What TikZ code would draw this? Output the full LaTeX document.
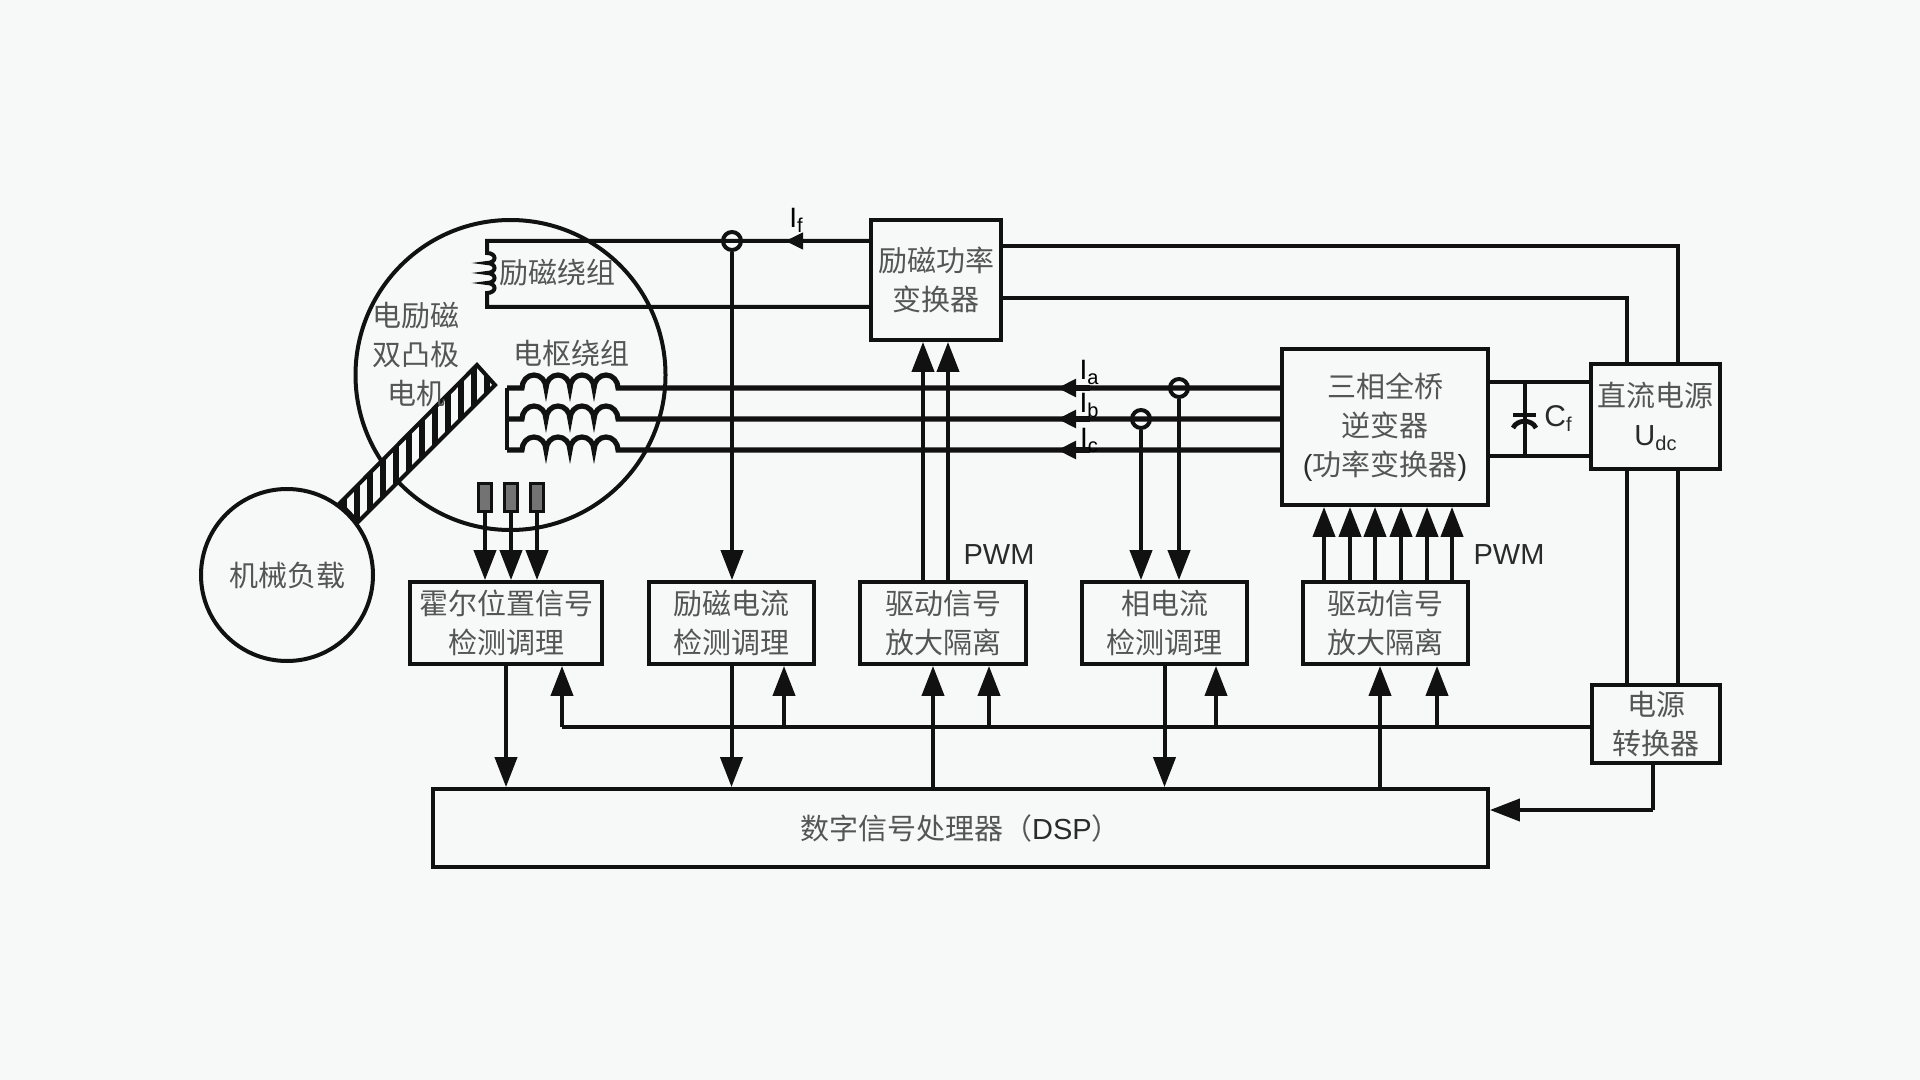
\documentclass[tikz,border=0pt]{standalone}
\usepackage{fontspec}
\setmainfont{Liberation Sans}
\newfontfamily\cjkf{Noto Sans CJK SC}
\usetikzlibrary{arrows.meta,shapes.geometric}
\definecolor{bgc}{HTML}{F7F8F8}
\definecolor{inkc}{HTML}{111111}
\definecolor{txtc}{HTML}{555555}
\definecolor{latc}{HTML}{2A2A2A}
\newcommand{\lat}[1]{{\rmfamily\color{latc}#1}}
\newcommand{\subt}[1]{{\raisebox{-2.5pt}{\fontsize{10}{10}\selectfont #1}}}
\newcommand{\humpx}{arc[start angle=180,end angle=360,x radius=12,y radius=13]}
\tikzset{
  cjktext/.style={font=\cjkf\fontsize{14.5}{19.5}\selectfont,text=txtc,align=center},
  blockbox/.style={draw=inkc,line width=1.9pt,rectangle,inner sep=0pt,cjktext},
  roundbody/.style={draw=inkc,line width=2pt,circle,inner sep=0pt,cjktext},
  label/.style={cjktext,inner sep=0pt},
  latlabel/.style={font=\fontsize{14}{14}\selectfont,text=latc,inner sep=0pt},
  wire/.style={draw=inkc,line width=2pt},
  fatwire/.style={draw=inkc,line width=2.6pt},
  bigarrow/.style={wire,-{Triangle[length=15pt,width=11pt]}},
  smallarrow/.style={fatwire,-{Triangle[length=9.5pt,width=8.5pt]}},
  currentsensor/.style={draw=inkc,line width=2pt,circle,minimum size=9pt,inner sep=0pt},
  hallsensor/.style={draw=inkc,line width=1.5pt,fill=black!55,rectangle,inner sep=0pt,minimum width=6.5pt,minimum height=14pt}
}
\begin{document}
\begin{tikzpicture}[x=0.5pt,y=-0.5pt]
\useasboundingbox (0,0) rectangle (1920,1080);
\fill[bgc] (0,0) rectangle (1920,1080);

% motor, rotor, load
\node[roundbody,minimum size=155pt] (motor) at (510.5,375) {};
\coordinate (ra) at (477,365);
\coordinate (rb) at (495,385);
\coordinate (rc) at (358,522);
\coordinate (rd) at (340,503);
\fill[bgc] (ra) -- (rb) -- (rc) -- (rd) -- cycle;
\begin{scope}
  \clip (ra) -- (rb) -- (rc) -- (rd) -- cycle;
  \foreach \sx in {344,357,...,500}
    \draw[line width=2.6pt,inkc] (\sx,360) -- (\sx,530);
\end{scope}
\draw[wire] (ra) -- (rb) -- (rc) -- (rd) -- cycle;
\node[roundbody,fill=bgc,minimum size=86pt] (load) at (287,575) {机械负载};

% text inside the motor
\node[label] (mt) at (416,354) {电励磁\\双凸极\\电机};
\node[label] (ft) at (557,273) {励磁绕组};
\node[label] (at) at (571,353) {电枢绕组};

% boxes
\node[blockbox,minimum width=65pt,minimum height=60pt] (fconv) at (936,280) {励磁功率\\变换器};
\node[blockbox,minimum width=103pt,minimum height=78pt] (inv) at (1385,427) {三相全桥\\逆变器\\\lat{(}功率变换器\lat{)}};
\node[blockbox,minimum width=64.5pt,minimum height=52.5pt] (dc) at (1655.5,416.5) {直流电源\\\lat{U\subt{dc}}};
\node[blockbox,minimum width=96pt,minimum height=41pt] (hall) at (506,623) {霍尔位置信号\\检测调理};
\node[blockbox,minimum width=82.5pt,minimum height=41pt] (fsense) at (731.5,623) {励磁电流\\检测调理};
\node[blockbox,minimum width=83pt,minimum height=41pt] (drvone) at (943,623) {驱动信号\\放大隔离};
\node[blockbox,minimum width=82.5pt,minimum height=41pt] (psense) at (1164.5,623) {相电流\\检测调理};
\node[blockbox,minimum width=82.5pt,minimum height=41pt] (drvtwo) at (1385.5,623) {驱动信号\\放大隔离};
\node[blockbox,minimum width=64pt,minimum height=39pt] (pconv) at (1656,724) {电源\\转换器};
\node[blockbox,minimum width=527.5pt,minimum height=39pt] (dsp) at (960.5,828) {数字信号处理器（\lat{DSP}）};

% field winding
\coordinate (fa) at (487,241);
\coordinate (fb) at (487,307);
\draw[wire] (fconv.west |- fa) -- (fa) -- (487,253)
  .. controls (497,253) and (497,263) .. (487,263)
  .. controls (497,263) and (497,273) .. (487,273)
  .. controls (497,273) and (497,283) .. (487,283)
  .. controls (497,283) and (497,293) .. (487,293)
  -- (fb) -- (fconv.west |- fb);
\coordinate (iftip) at (785,241);
\coordinate (ifbase) at (820,241);
\draw[wire,-{Triangle[length=9pt,width=8pt]}] (ifbase) -- (iftip);
\node[latlabel,text=black] (iflabel) at (796,220) {I\subt{f}};

% armature windings
\coordinate (la) at (507,388);
\coordinate (lb) at (507,419);
\coordinate (lc) at (507,450);
\draw[wire] (la) -- (lc);
\foreach \nm in {la,lb,lc} {
  \draw[fatwire] (\nm) -- ++(15,0) \humpx \humpx \humpx \humpx -- (inv.west |- \nm);
}
\coordinate (tipa) at (1057,388);
\coordinate (tipb) at (1057,419);
\coordinate (tipc) at (1057,450);
\draw[smallarrow] (1090,388) -- (tipa);
\draw[smallarrow] (1090,419) -- (tipb);
\draw[smallarrow] (1090,450) -- (tipc);
\node[latlabel,text=black] (ila) at (1089,372) {I\subt{a}};
\node[latlabel,text=black] (ilb) at (1089,405) {I\subt{b}};
\node[latlabel,text=black] (ilc) at (1089,440) {I\subt{c}};

% current sensors
\node[currentsensor] (sf) at (732,241) {};
\node[currentsensor] (sa) at (1179,388) {};
\node[currentsensor] (sb) at (1141,419) {};
\draw[bigarrow] (sf.south) -- (sf.south |- fsense.north);
\draw[bigarrow] (sa.south) -- (sa.south |- psense.north);
\draw[bigarrow] (sb.south) -- (sb.south |- psense.north);

% hall sensors
\node[hallsensor] (ha) at (485,497) {};
\node[hallsensor] (hb) at (511,497) {};
\node[hallsensor] (hc) at (537,497) {};
\draw[bigarrow] (ha.south) -- (ha.south |- hall.north);
\draw[bigarrow] (hb.south) -- (hb.south |- hall.north);
\draw[bigarrow] (hc.south) -- (hc.south |- hall.north);

% PWM to field converter
\coordinate (pa) at (923,582);
\coordinate (pb) at (948,582);
\draw[bigarrow] (pa) -- (pa |- fconv.south);
\draw[bigarrow] (pb) -- (pb |- fconv.south);
\node[latlabel,font=\fontsize{14.5}{14.5}\selectfont] (pwmone) at (999,555) {PWM};

% PWM to inverter
\foreach \px in {1324,1350,1375,1401,1427,1452} {
  \coordinate (pw) at (\px,582);
  \draw[bigarrow] (pw) -- (pw |- inv.south);
}
\node[latlabel,font=\fontsize{14.5}{14.5}\selectfont] (pwmtwo) at (1509,555) {PWM};

% DC link and capacitor
\coordinate (dca) at (1524.5,382);
\coordinate (dcb) at (1524.5,456);
\draw[wire] (inv.east |- dca) -- (dc.west |- dca);
\draw[wire] (inv.east |- dcb) -- (dc.west |- dcb);
\draw[wire] (dca) -- (dcb);
\draw[wire,line width=2.4pt] (1513,415) -- (1536,415);
\draw[wire,line width=2.4pt] (1513,428) .. controls (1517,419) and (1532,419) .. (1536,428);
\node[latlabel,font=\fontsize{15}{15}\selectfont] (cf) at (1558,419) {C\subt{f}};

% DC supply wiring
\coordinate (ra1) at (1678,246);
\coordinate (ra2) at (1627,298);
\draw[wire] (fconv.east |- ra1) -- (ra1) -- (ra1 |- dc.north);
\draw[wire] (fconv.east |- ra2) -- (ra2) -- (ra2 |- dc.north);
\draw[wire] (ra1 |- dc.south) -- (ra1 |- pconv.north);
\draw[wire] (ra2 |- dc.south) -- (ra2 |- pconv.north);

% auxiliary supply bus
\coordinate (bus) at (562,727);
\draw[wire] (pconv.west |- bus) -- (bus);
\draw[bigarrow] (bus) -- (bus |- hall.south);
\foreach \bx/\tg in {784/fsense,989/drvone,1216/psense,1437/drvtwo} {
  \coordinate (bt) at (\bx,727);
  \draw[bigarrow] (bt) -- (bt |- \tg.south);
}

% signals to and from the DSP
\draw[bigarrow] (hall.south) -- (hall.south |- dsp.north);
\draw[bigarrow] (fsense.south) -- (fsense.south |- dsp.north);
\draw[bigarrow] (psense.south) -- (psense.south |- dsp.north);
\coordinate (dupa) at (933,789);
\coordinate (dupb) at (1380,789);
\draw[bigarrow] (dupa) -- (dupa |- drvone.south);
\draw[bigarrow] (dupb) -- (dupb |- drvtwo.south);
\coordinate (pd) at (1653,810);
\draw[wire] (pd |- pconv.south) -- (pd);
\draw[bigarrow] (pd) -- (dsp.east |- pd);
\end{tikzpicture}
\end{document}
